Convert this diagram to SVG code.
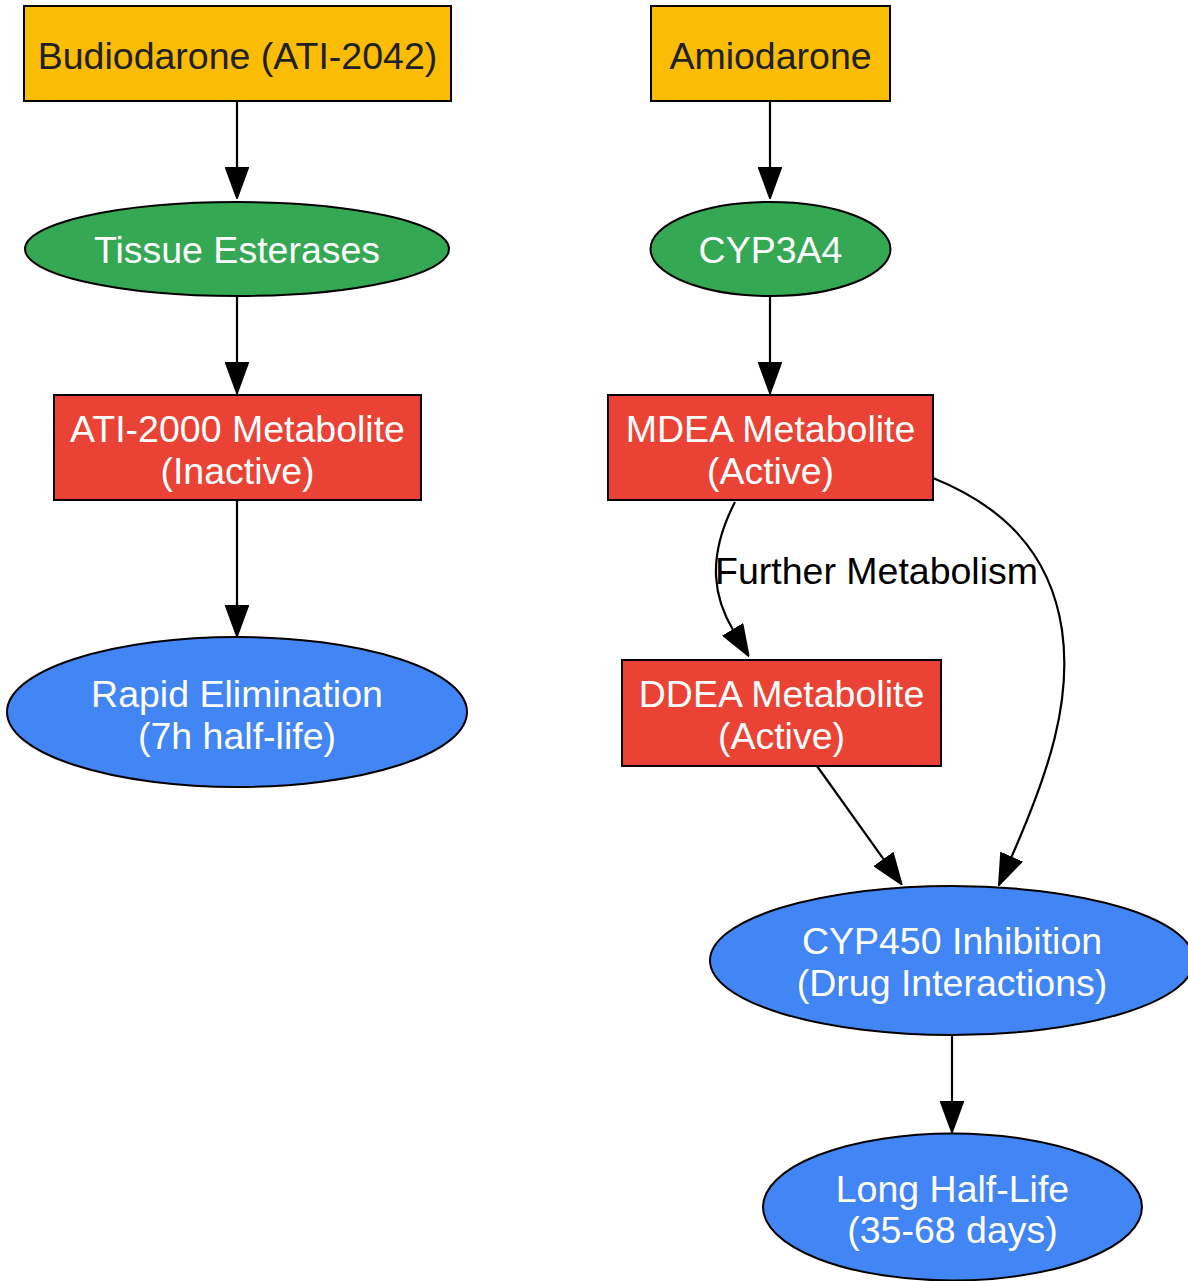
<svg xmlns="http://www.w3.org/2000/svg" width="1188" height="1281" viewBox="0 0 1188 1281">
<style>
text{font-family:"Liberation Sans",Arial,sans-serif;font-size:37.5px;text-anchor:middle}
.y{fill:#fbbc04;stroke:#000;stroke-width:2}
.g{fill:#34a853;stroke:#000;stroke-width:2}
.r{fill:#ea4335;stroke:#000;stroke-width:2}
.b{fill:#4285f4;stroke:#000;stroke-width:2}
.dk{fill:#202124}
.wt{fill:#fff}
.e{fill:none;stroke:#000;stroke-width:2.2;marker-end:url(#ah)}
</style>
<defs>
<marker id="ah" markerUnits="userSpaceOnUse" markerWidth="32" markerHeight="24" refX="1" refY="12" orient="auto" viewBox="-1 0 32 24">
<path d="M0,1 L30,12 L0,23 Z" fill="#000" stroke="#000" stroke-width="2"/>
</marker>
</defs>
<rect width="1188" height="1281" fill="#fff"/>
<g id="edges">
<path class="e" d="M237,101 L237,169"/>
<path class="e" d="M237,297 L237,364"/>
<path class="e" d="M237,500 L237,607"/>
<path class="e" d="M770,101 L770,169"/>
<path class="e" d="M770,297 L770,364"/>
<path class="e" d="M735,502 C705,560 715,600 733.6,631"/>
<path class="e" d="M933,478 C1000,505 1050,550 1062,630 C1072,700 1050,770 1010.8,858.4"/>
<path class="e" d="M817,766 L884.6,860.6"/>
<path class="e" d="M952,1035 L952,1103"/>
<text x="715" y="584" style="text-anchor:start" fill="#000">Further Metabolism</text>
</g>
<g id="budiodarone">
<rect class="y" x="24" y="6" width="427" height="95"/>
<text class="dk" x="237.5" y="69">Budiodarone (ATI-2042)</text>
</g>
<g id="amiodarone">
<rect class="y" x="651" y="6" width="239" height="95"/>
<text class="dk" x="770.5" y="69">Amiodarone</text>
</g>
<g id="tissue_esterases">
<ellipse class="g" cx="237" cy="249" rx="212" ry="47"/>
<text class="wt" x="237" y="263">Tissue Esterases</text>
</g>
<g id="cyp3a4">
<ellipse class="g" cx="770.5" cy="249" rx="120" ry="47"/>
<text class="wt" x="770.5" y="263">CYP3A4</text>
</g>
<g id="ati2000">
<rect class="r" x="54" y="395" width="367" height="105"/>
<text class="wt" x="237.5" y="442">ATI-2000 Metabolite</text>
<text class="wt" x="237.5" y="484">(Inactive)</text>
</g>
<g id="mdea">
<rect class="r" x="608" y="395" width="325" height="105"/>
<text class="wt" x="770.5" y="442">MDEA Metabolite</text>
<text class="wt" x="770.5" y="484">(Active)</text>
</g>
<g id="rapid_elimination">
<ellipse class="b" cx="237" cy="712" rx="230" ry="75"/>
<text class="wt" x="237" y="707">Rapid Elimination</text>
<text class="wt" x="237" y="749">(7h half-life)</text>
</g>
<g id="ddea">
<rect class="r" x="622" y="660" width="319" height="106"/>
<text class="wt" x="781.5" y="707">DDEA Metabolite</text>
<text class="wt" x="781.5" y="749">(Active)</text>
</g>
<g id="cyp450">
<ellipse class="b" cx="952" cy="960.5" rx="242" ry="74.5"/>
<text class="wt" x="952" y="954">CYP450 Inhibition</text>
<text class="wt" x="952" y="996">(Drug Interactions)</text>
</g>
<g id="long_half_life">
<ellipse class="b" cx="952.5" cy="1207" rx="189.5" ry="73.5"/>
<text class="wt" x="952.5" y="1202">Long Half-Life</text>
<text class="wt" x="952.5" y="1243">(35-68 days)</text>
</g>
</svg>
